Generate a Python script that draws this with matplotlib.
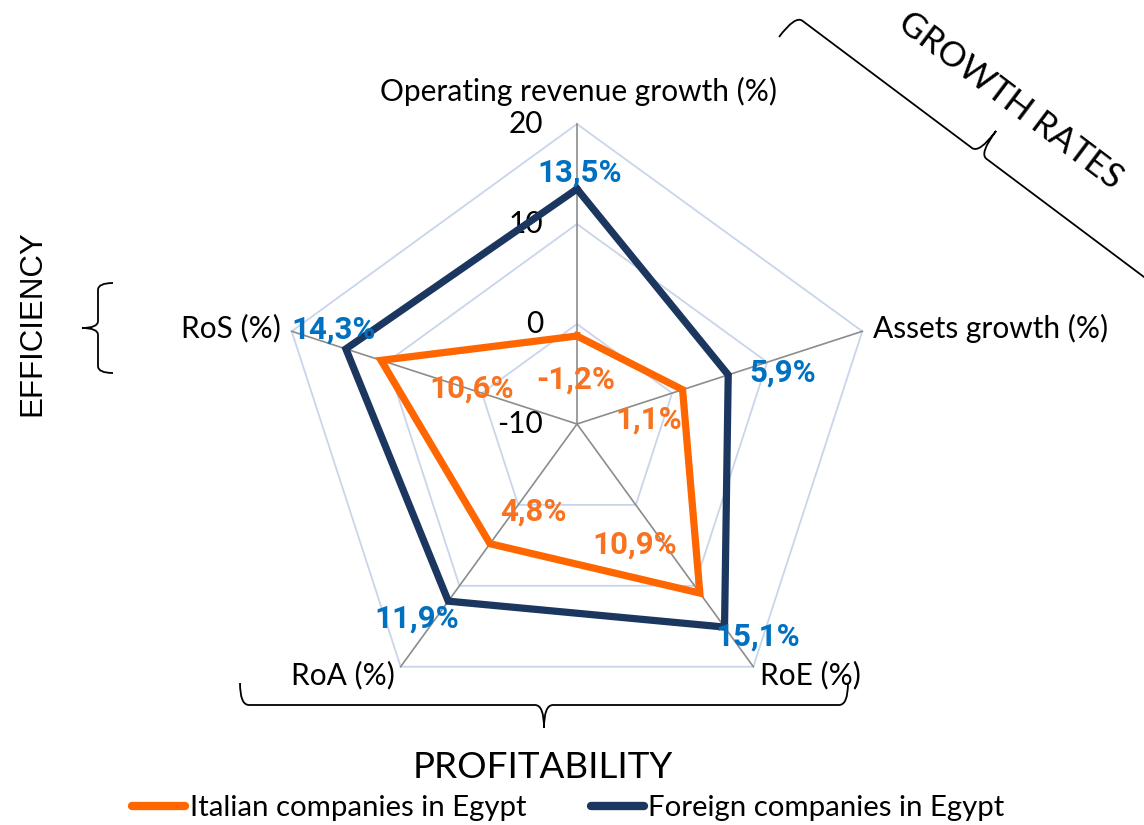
import numpy as np
import matplotlib
matplotlib.use("Agg")
import matplotlib.pyplot as plt
from matplotlib.path import Path
from matplotlib.patches import PathPatch
from matplotlib.lines import Line2D

# ---- data ----
categories = ["Operating revenue growth (%)", "Assets growth (%)", "RoE (%)",
              "RoA (%)", "RoS (%)"]
italian = [-1.2, 1.1, 10.9, 4.8, 10.6]
foreign = [13.5, 5.9, 15.1, 11.9, 14.3]
ring_values = [-10, 0, 10, 20]
series_names = ["Italian companies in Egypt", "Foreign companies in Egypt"]

W, H = 1144, 825
CX, CY = 577, 424          # radar centre in pixels
PX = 10                    # pixels per value unit
RMIN, RMAX = -10, 20

ORANGE = "#FF6600"
NAVY = "#1B365F"
BLUE_LBL = "#0070C0"
ORANGE_LBL = "#F8721F"
RING = "#C9D5EA"
SPOKE = "#8C8C8C"

FONT = "Lato"
FS = 21.5
LBL_FONT = "Roboto"   # bold data labels

fig = plt.figure(figsize=(W / 100, H / 100), dpi=100)

# overlay in pixel coordinates for the free-standing decorations
over = fig.add_axes([0, 0, 1, 1])
over.set_xlim(0, W)
over.set_ylim(H, 0)
over.axis("off")

# radar axes: 1 data unit = 1 value unit, origin at ring RMIN
R = 33
rad = fig.add_axes([(CX - R * PX) / W, (H - CY - R * PX) / H,
                    2 * R * PX / W, 2 * R * PX / H])
rad.set_xlim(-R, R)
rad.set_ylim(-R, R)
rad.axis("off")

n = len(categories)
angles = np.pi / 2 - np.arange(n) * 2 * np.pi / n


def to_xy(values):
    r = np.asarray(values, dtype=float) - RMIN
    return r * np.cos(angles), r * np.sin(angles)


# grid rings and spokes
for v in ring_values[1:]:
    x, y = to_xy([v] * n)
    rad.plot(np.append(x, x[0]), np.append(y, y[0]), color=RING, lw=1.3, zorder=1)
xo, yo = to_xy([RMAX] * n)
for xi, yi in zip(xo, yo):
    rad.plot([0, xi], [0, yi], color=SPOKE, lw=1.2, zorder=1.5)

# ring value labels
for v in ring_values:
    rad.text(-3.4, v - RMIN, str(v), ha="right", va="center",
             fontsize=FS, family=FONT, color="black", zorder=2)

# series
xf, yf = to_xy(foreign)
rad.plot(np.append(xf, xf[0]), np.append(yf, yf[0]), color=NAVY, lw=5.2, zorder=3,
         solid_joinstyle="miter")
xi_, yi_ = to_xy(italian)
rad.plot(np.append(xi_, xi_[0]), np.append(yi_, yi_[0]), color=ORANGE, lw=5.2, zorder=4,
         solid_joinstyle="miter")

# data labels (offsets in pixels, y up)
foreign_off = [(3, 16), (54, 2), (33, -9), (-32, -17), (-12, 19)]
italian_off = [(-1, -44), (-34, -30), (-65, 49), (43, 32), (91, -28)]
for xs, ys, vals, offs, col in [(xf, yf, foreign, foreign_off, BLUE_LBL),
                                (xi_, yi_, italian, italian_off, ORANGE_LBL)]:
    for x, y, v, o in zip(xs, ys, vals, offs):
        rad.annotate(f"{v:.1f}%".replace(".", ","), xy=(x, y), xytext=o,
                     textcoords="offset pixels", ha="center", va="center",
                     fontsize=22.5, family=LBL_FONT, fontweight="bold", color=col, zorder=5)

# category labels
over.text(578, 91, categories[0], ha="center", va="center", fontsize=FS, family=FONT)
over.text(873, 328, categories[1], ha="left", va="center", fontsize=FS, family=FONT)
over.text(810, 675, categories[2], ha="center", va="center", fontsize=FS, family=FONT)
over.text(343, 675, categories[3], ha="center", va="center", fontsize=FS, family=FONT)
over.text(281, 328, categories[4], ha="right", va="center", fontsize=FS, family=FONT)


# curly braces
def brace(p0, t, nv, length, h1, h2, r=9, lw=1.3):
    t = np.asarray(t, float)
    nv = np.asarray(nv, float)
    m = length / 2
    loc = [(0, 0), (0, h1), (r, h1), (m - r, h1), (m, h1), (m, h2),
           (m, h1), (m + r, h1), (length - r, h1), (length, h1), (length, 0)]
    codes = [Path.MOVETO, Path.CURVE3, Path.CURVE3, Path.LINETO, Path.CURVE3,
             Path.CURVE3, Path.CURVE3, Path.CURVE3, Path.LINETO, Path.CURVE3,
             Path.CURVE3]
    verts = [np.asarray(p0) + u * t + v * nv for u, v in loc]
    over.add_patch(PathPatch(Path(verts, codes), fill=False, edgecolor="black", lw=lw))


brace((240, 683), (1, 0), (0, 1), 608, 22, 45)
brace((113, 283), (0, 1), (-1, 0), 90, 15, 31, r=7)
brace((779, 37), (0.8, 0.6), (0.6, -0.8), 460, 27, 55)

# group titles
over.text(543, 768, "PROFITABILITY", ha="center", va="center", fontsize=26.5, family=FONT)
over.text(32, 323, "EFFICIENCY", ha="center", va="center", rotation=90,
          fontsize=22.5, family="Liberation Sans")
over.text(1010, 101, "GROWTH RATES", ha="center", va="center", rotation=-37,
          rotation_mode="anchor", fontsize=25, family=FONT)

# legend
handles = [Line2D([], [], color=ORANGE, lw=6, solid_capstyle="round"),
           Line2D([], [], color=NAVY, lw=6, solid_capstyle="round")]
fig.legend(handles, series_names, loc="center", bbox_to_anchor=(0.497, 1 - 808 / H),
           ncol=2, frameon=False, handlelength=1.8, handletextpad=0.15,
           columnspacing=2.2, prop={"family": FONT, "size": 21.2})

fig.savefig("out.png", dpi=100)
